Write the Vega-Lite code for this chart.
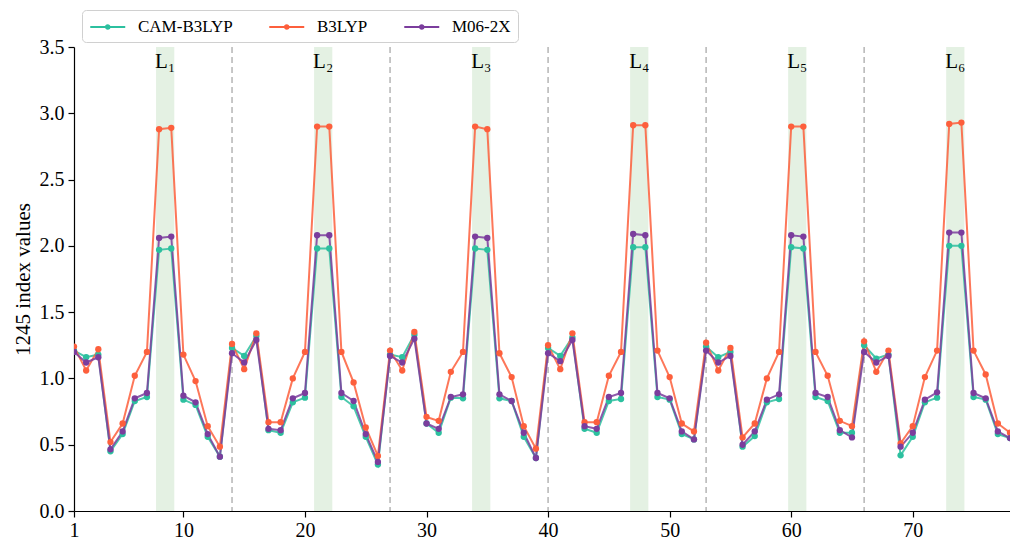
{
  "$schema": "https://vega.github.io/schema/vega-lite/v6.json",
  "width": 936,
  "height": 464,
  "autosize": {"type": "none"},
  "padding": {"left": 74, "top": 47, "right": 0, "bottom": 30},
  "config": {
    "view": {"stroke": null},
    "font": "Liberation Serif",
    "axis": {
      "grid": false,
      "domainColor": "black",
      "domainWidth": 1.2,
      "tickColor": "black",
      "tickWidth": 1.2,
      "tickSize": 6,
      "labelFont": "Liberation Serif",
      "labelFontSize": 20,
      "labelColor": "black",
      "titleFont": "Liberation Serif",
      "titleFontSize": 21,
      "titleFontWeight": "normal",
      "titleColor": "black"
    }
  },
  "datasets": {
    "bands": [
      {"x": 7.75, "xe": 9.25, "c": 8.5, "label": "L₁"},
      {"x": 20.75, "xe": 22.25, "c": 21.5, "label": "L₂"},
      {"x": 33.75, "xe": 35.25, "c": 34.5, "label": "L₃"},
      {"x": 46.75, "xe": 48.25, "c": 47.5, "label": "L₄"},
      {"x": 59.75, "xe": 61.25, "c": 60.5, "label": "L₅"},
      {"x": 72.75, "xe": 74.25, "c": 73.5, "label": "L₆"}
    ],
    "dividers": [{"x": 14}, {"x": 27}, {"x": 40}, {"x": 53}, {"x": 66}],
    "values": [
      {"x": 1, "CAM-B3LYP": 1.21, "B3LYP": 1.24, "M06-2X": 1.20},
      {"x": 2, "CAM-B3LYP": 1.16, "B3LYP": 1.06, "M06-2X": 1.12},
      {"x": 3, "CAM-B3LYP": 1.18, "B3LYP": 1.22, "M06-2X": 1.16},
      {"x": 4, "CAM-B3LYP": 0.45, "B3LYP": 0.52, "M06-2X": 0.465},
      {"x": 5, "CAM-B3LYP": 0.58, "B3LYP": 0.66, "M06-2X": 0.60},
      {"x": 6, "CAM-B3LYP": 0.83, "B3LYP": 1.02, "M06-2X": 0.85},
      {"x": 7, "CAM-B3LYP": 0.86, "B3LYP": 1.20, "M06-2X": 0.89},
      {"x": 8, "CAM-B3LYP": 1.97, "B3LYP": 2.88, "M06-2X": 2.06},
      {"x": 9, "CAM-B3LYP": 1.98, "B3LYP": 2.89, "M06-2X": 2.07},
      {"x": 10, "CAM-B3LYP": 0.84, "B3LYP": 1.18, "M06-2X": 0.87},
      {"x": 11, "CAM-B3LYP": 0.80, "B3LYP": 0.98, "M06-2X": 0.82},
      {"x": 12, "CAM-B3LYP": 0.56, "B3LYP": 0.64, "M06-2X": 0.58},
      {"x": 13, "CAM-B3LYP": 0.41, "B3LYP": 0.485, "M06-2X": 0.41},
      {"x": 14, "CAM-B3LYP": 1.23, "B3LYP": 1.26, "M06-2X": 1.19},
      {"x": 15, "CAM-B3LYP": 1.17, "B3LYP": 1.07, "M06-2X": 1.12},
      {"x": 16, "CAM-B3LYP": 1.32, "B3LYP": 1.34, "M06-2X": 1.29},
      {"x": 17, "CAM-B3LYP": 0.61, "B3LYP": 0.67, "M06-2X": 0.62},
      {"x": 18, "CAM-B3LYP": 0.59, "B3LYP": 0.67, "M06-2X": 0.61},
      {"x": 19, "CAM-B3LYP": 0.82, "B3LYP": 1.00, "M06-2X": 0.85},
      {"x": 20, "CAM-B3LYP": 0.855, "B3LYP": 1.20, "M06-2X": 0.89},
      {"x": 21, "CAM-B3LYP": 1.98, "B3LYP": 2.90, "M06-2X": 2.08},
      {"x": 22, "CAM-B3LYP": 1.98, "B3LYP": 2.90, "M06-2X": 2.08},
      {"x": 23, "CAM-B3LYP": 0.86, "B3LYP": 1.20, "M06-2X": 0.89},
      {"x": 24, "CAM-B3LYP": 0.79, "B3LYP": 0.97, "M06-2X": 0.83},
      {"x": 25, "CAM-B3LYP": 0.56, "B3LYP": 0.63, "M06-2X": 0.58},
      {"x": 26, "CAM-B3LYP": 0.35, "B3LYP": 0.415, "M06-2X": 0.37},
      {"x": 27, "CAM-B3LYP": 1.18, "B3LYP": 1.21, "M06-2X": 1.17},
      {"x": 28, "CAM-B3LYP": 1.16, "B3LYP": 1.06, "M06-2X": 1.12},
      {"x": 29, "CAM-B3LYP": 1.33, "B3LYP": 1.35, "M06-2X": 1.30},
      {"x": 30, "CAM-B3LYP": 0.66, "B3LYP": 0.71, "M06-2X": 0.66},
      {"x": 31, "CAM-B3LYP": 0.59, "B3LYP": 0.68, "M06-2X": 0.62},
      {"x": 32, "CAM-B3LYP": 0.855, "B3LYP": 1.05, "M06-2X": 0.86},
      {"x": 33, "CAM-B3LYP": 0.85, "B3LYP": 1.20, "M06-2X": 0.88},
      {"x": 34, "CAM-B3LYP": 1.98, "B3LYP": 2.90, "M06-2X": 2.07},
      {"x": 35, "CAM-B3LYP": 1.97, "B3LYP": 2.88, "M06-2X": 2.06},
      {"x": 36, "CAM-B3LYP": 0.85, "B3LYP": 1.19, "M06-2X": 0.88},
      {"x": 37, "CAM-B3LYP": 0.83, "B3LYP": 1.01, "M06-2X": 0.83},
      {"x": 38, "CAM-B3LYP": 0.56, "B3LYP": 0.64, "M06-2X": 0.59},
      {"x": 39, "CAM-B3LYP": 0.40, "B3LYP": 0.47, "M06-2X": 0.40},
      {"x": 40, "CAM-B3LYP": 1.23, "B3LYP": 1.25, "M06-2X": 1.19},
      {"x": 41, "CAM-B3LYP": 1.17, "B3LYP": 1.07, "M06-2X": 1.13},
      {"x": 42, "CAM-B3LYP": 1.31, "B3LYP": 1.34, "M06-2X": 1.29},
      {"x": 43, "CAM-B3LYP": 0.62, "B3LYP": 0.67, "M06-2X": 0.64},
      {"x": 44, "CAM-B3LYP": 0.59, "B3LYP": 0.67, "M06-2X": 0.62},
      {"x": 45, "CAM-B3LYP": 0.83, "B3LYP": 1.02, "M06-2X": 0.86},
      {"x": 46, "CAM-B3LYP": 0.845, "B3LYP": 1.20, "M06-2X": 0.89},
      {"x": 47, "CAM-B3LYP": 1.99, "B3LYP": 2.91, "M06-2X": 2.09},
      {"x": 48, "CAM-B3LYP": 1.99, "B3LYP": 2.91, "M06-2X": 2.08},
      {"x": 49, "CAM-B3LYP": 0.86, "B3LYP": 1.21, "M06-2X": 0.89},
      {"x": 50, "CAM-B3LYP": 0.84, "B3LYP": 1.01, "M06-2X": 0.85},
      {"x": 51, "CAM-B3LYP": 0.58, "B3LYP": 0.66, "M06-2X": 0.60},
      {"x": 52, "CAM-B3LYP": 0.54, "B3LYP": 0.60, "M06-2X": 0.54},
      {"x": 53, "CAM-B3LYP": 1.24, "B3LYP": 1.27, "M06-2X": 1.21},
      {"x": 54, "CAM-B3LYP": 1.16, "B3LYP": 1.06, "M06-2X": 1.12},
      {"x": 55, "CAM-B3LYP": 1.20, "B3LYP": 1.23, "M06-2X": 1.17},
      {"x": 56, "CAM-B3LYP": 0.485, "B3LYP": 0.555, "M06-2X": 0.50},
      {"x": 57, "CAM-B3LYP": 0.565, "B3LYP": 0.66, "M06-2X": 0.60},
      {"x": 58, "CAM-B3LYP": 0.82, "B3LYP": 1.00, "M06-2X": 0.84},
      {"x": 59, "CAM-B3LYP": 0.845, "B3LYP": 1.20, "M06-2X": 0.88},
      {"x": 60, "CAM-B3LYP": 1.99, "B3LYP": 2.90, "M06-2X": 2.08},
      {"x": 61, "CAM-B3LYP": 1.98, "B3LYP": 2.90, "M06-2X": 2.07},
      {"x": 62, "CAM-B3LYP": 0.86, "B3LYP": 1.20, "M06-2X": 0.89},
      {"x": 63, "CAM-B3LYP": 0.83, "B3LYP": 1.02, "M06-2X": 0.86},
      {"x": 64, "CAM-B3LYP": 0.59, "B3LYP": 0.68, "M06-2X": 0.61},
      {"x": 65, "CAM-B3LYP": 0.59, "B3LYP": 0.64, "M06-2X": 0.555},
      {"x": 66, "CAM-B3LYP": 1.25, "B3LYP": 1.28, "M06-2X": 1.20},
      {"x": 67, "CAM-B3LYP": 1.15, "B3LYP": 1.05, "M06-2X": 1.12},
      {"x": 68, "CAM-B3LYP": 1.18, "B3LYP": 1.21, "M06-2X": 1.17},
      {"x": 69, "CAM-B3LYP": 0.42, "B3LYP": 0.51, "M06-2X": 0.485},
      {"x": 70, "CAM-B3LYP": 0.56, "B3LYP": 0.64, "M06-2X": 0.59},
      {"x": 71, "CAM-B3LYP": 0.82, "B3LYP": 1.01, "M06-2X": 0.84},
      {"x": 72, "CAM-B3LYP": 0.855, "B3LYP": 1.21, "M06-2X": 0.895},
      {"x": 73, "CAM-B3LYP": 2.00, "B3LYP": 2.92, "M06-2X": 2.10},
      {"x": 74, "CAM-B3LYP": 2.00, "B3LYP": 2.93, "M06-2X": 2.10},
      {"x": 75, "CAM-B3LYP": 0.86, "B3LYP": 1.21, "M06-2X": 0.89},
      {"x": 76, "CAM-B3LYP": 0.84, "B3LYP": 1.03, "M06-2X": 0.85},
      {"x": 77, "CAM-B3LYP": 0.58, "B3LYP": 0.66, "M06-2X": 0.60},
      {"x": 78, "CAM-B3LYP": 0.55, "B3LYP": 0.59, "M06-2X": 0.55}
    ]
  },
  "layer": [
    {
      "data": {"name": "bands"},
      "mark": {"type": "rect", "color": "#e4f1e3"},
      "encoding": {
        "x": {"field": "x", "type": "quantitative", "title": null, "scale": {"domain": [1, 78], "nice": false, "zero": false}},
        "x2": {"field": "xe"}
      }
    },
    {
      "data": {"name": "dividers"},
      "mark": {"type": "rule", "color": "#b5b5b5", "strokeWidth": 1.5, "strokeDash": [6, 4]},
      "encoding": {
        "x": {"field": "x", "type": "quantitative", "title": null}
      }
    },
    {
      "data": {"name": "bands"},
      "mark": {"type": "text", "font": "Liberation Serif", "fontSize": 21, "color": "black", "baseline": "alphabetic", "align": "center"},
      "encoding": {
        "x": {"field": "c", "type": "quantitative", "title": null},
        "y": {"datum": 3.34, "type": "quantitative", "title": null},
        "text": {"field": "label"}
      }
    },
    {
      "data": {"name": "values"},
      "transform": [{"fold": ["CAM-B3LYP", "B3LYP", "M06-2X"], "as": ["method", "value"]}],
      "encoding": {
        "x": {
          "field": "x", "type": "quantitative", "title": null,
          "scale": {"domain": [1, 78], "nice": false, "zero": false},
          "axis": {"values": [1, 10, 20, 30, 40, 50, 60, 70], "format": "d", "labelFlush": false, "labelPadding": 3}
        },
        "y": {
          "field": "value", "type": "quantitative", "title": "1245 index values",
          "scale": {"domain": [0, 3.5], "nice": false, "zero": true},
          "axis": {"values": [0, 0.5, 1, 1.5, 2, 2.5, 3, 3.5], "format": ".1f", "titlePadding": 6, "labelPadding": 4}
        },
        "color": {
          "field": "method", "type": "nominal",
          "scale": {"domain": ["CAM-B3LYP", "B3LYP", "M06-2X"], "range": ["#2cc09f", "#fd5f3c", "#7b3d9d"]},
          "legend": {
            "title": null,
            "orient": "none",
            "legendX": 8,
            "legendY": -37,
            "direction": "horizontal",
            "symbolType": "M-1,0H3M0.8,0A0.2,0.2 0 1,0 1.2,0A0.2,0.2 0 1,0 0.8,0",
            "symbolSize": 306,
            "symbolStrokeWidth": 2,
            "symbolOpacity": 1,
            "labelFont": "Liberation Serif",
            "labelFontSize": 17,
            "labelColor": "black",
            "labelOffset": 29,
            "columnPadding": 32,
            "padding": 7,
            "strokeColor": "#d0d0d0",
            "fillColor": "white",
            "cornerRadius": 4
          }
        }
      },
      "layer": [
        {"mark": {"type": "line", "strokeWidth": 2, "opacity": 0.85, "clip": true}},
        {"mark": {"type": "point", "filled": true, "size": 40, "opacity": 1, "clip": true}}
      ]
    }
  ]
}
